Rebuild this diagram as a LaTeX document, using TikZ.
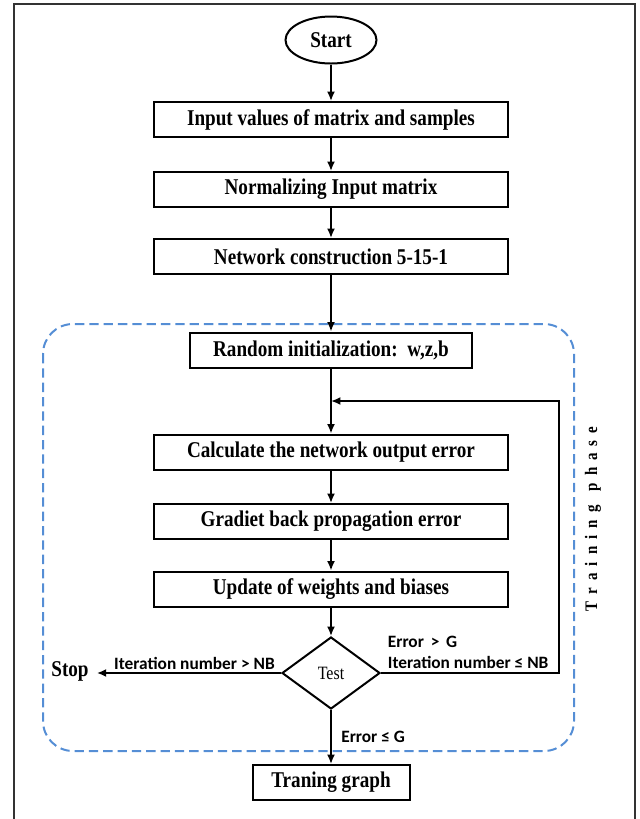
\documentclass[tikz,border=0pt]{standalone}
\usepackage{fontspec}
\setmainfont{Liberation Serif}[FakeStretch=0.85]
\newfontfamily\lblfont{Carlito}
\usetikzlibrary{shapes.geometric,arrows.meta}

\definecolor{phaseblue}{RGB}{85,142,213}

\begin{document}
\begin{tikzpicture}[x=0.75pt, y=-0.75pt,
	box/.style={draw, line width=1.5pt, minimum width=265.5pt, minimum height=26.25pt, inner sep=0pt, font=\fontsize{16.9}{19}\selectfont\bfseries},
	flow/.style={line width=1.5pt, arrows={-{Latex[length=7pt, width=6pt]}}},
	lbl/.style={font=\fontsize{13}{15.75}\selectfont\lblfont\bfseries, inner sep=2pt}]

	\useasboundingbox (0,0) rectangle (640,819);
	\draw [line width=1.1pt, black!80] (14,819) -- (14,4) -- (635,4) -- (635,819);

	% training phase frame
	\draw [phaseblue, line width=1.5pt, dash pattern=on 7pt off 3.75pt, rounded corners=22.5pt] (43,324) rectangle (574,751);
	\node [rotate=90, font=\fontsize{13.2}{15}\selectfont\bfseries] (phase) at (593,519) {\spaceskip=5.3pt T r a i n i n g\ \ p h a s e};

	\node [draw, ellipse, line width=1.5pt, minimum width=68.25pt, minimum height=35.25pt, inner sep=0pt, font=\fontsize{16.9}{19}\selectfont\bfseries] (start) at (331,40) {Start};
	\node [box] (inval) at (331,119.5) {Input values of matrix and samples};
	\node [box] (norm) at (331,189.5) {Normalizing Input matrix};
	\node [box] (netw) at (331,256.5) {Network construction 5-15-1};
	\node [box, minimum width=211.5pt] (rinit) at (331,350) {Random initialization:\ \ w,z,b};
	\node [box] (calc) at (331,452) {Calculate the network output error};
	\node [box] (grad) at (331,521.5) {Gradiet back propagation error};
	\node [box] (upd) at (331,589) {Update of weights and biases};
	\node [draw, diamond, line width=1.5pt, minimum width=73.5pt, minimum height=54pt, inner sep=0pt, font=\fontsize{14.1}{16}\selectfont] (test) at (331,673) {Test};
	\node [box, minimum width=117.75pt] (graph) at (331,782.5) {Traning graph};
	\node [font=\fontsize{16.9}{19}\selectfont\bfseries, inner xsep=6pt] (stop) at (70,671) {Stop};

	\foreach \a/\b in {start/inval, inval/norm, norm/netw, netw/rinit, rinit/calc, calc/grad, grad/upd, upd/test}
		\draw [flow] (\a) -- (\b);

	% loop back
	\coordinate (join) at (331,401);
	\coordinate (back1) at (559,673);
	\coordinate (back2) at (559,401);
	\draw [flow] (test.east) -- (back1) -- (back2) -- (join);
	\node [lbl, anchor=south west, align=left] (cond) at ([xshift=3pt, yshift=1pt]test.east) {Error \,>\, G\\Iteration number ≤ NB};

	\draw [flow] (test.west) -- (test.west -| stop.east) node [lbl, above, pos=0.47] (nbl) {Iteration number > NB};
	\draw [flow] (test.south) -- (graph.north) node [lbl, right, midway, xshift=5pt] (okl) {Error ≤ G};

\end{tikzpicture}
\end{document}
